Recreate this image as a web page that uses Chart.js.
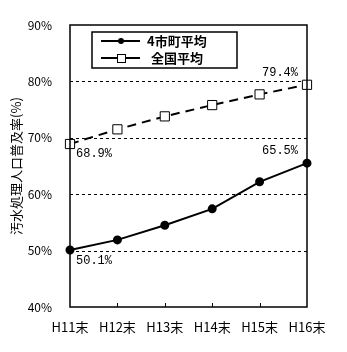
<!DOCTYPE html>
<html>
<head>
<meta charset="utf-8">
<script src="https://cdn.jsdelivr.net/npm/chart.js@4.4.1/dist/chart.umd.min.js"></script>
<style>
  html, body { margin: 0; padding: 0; background: #fff; }
  #wrap { width: 347px; height: 352px; }
</style>
</head>
<body>
<div id="wrap"><canvas id="myChart" width="347" height="352"></canvas></div>
<script>
const years = ['H11末', 'H12末', 'H13末', 'H14末', 'H15末', 'H16末'];
const local4 = [50.1, 51.9, 54.5, 57.4, 62.2, 65.5];
const national = [68.9, 71.5, 73.8, 75.8, 77.7, 79.4];
const seriesNames = ['4市町平均', '全国平均'];
const yTicks = [40, 50, 60, 70, 80, 90];

const jpFont = '"Noto Sans CJK JP", sans-serif';
const monoFont = '"Liberation Mono", monospace';

// dashed inner gridlines under the lines
const dashedGrid = {
    id: 'dashedGrid',
    beforeDatasetsDraw(chart) {
        const c = chart.ctx;
        const a = chart.chartArea;
        const ys = chart.scales.y;
        c.save();
        c.strokeStyle = '#000';
        c.lineWidth = 1;
        c.setLineDash([3, 3]);
        c.beginPath();
        yTicks.slice(1, -1).forEach(v => {
            const y = Math.round(ys.getPixelForValue(v)) + 0.5;
            c.moveTo(a.left, y);
            c.lineTo(a.right, y);
        });
        c.stroke();
        c.restore();
    }
};

// frame, inner x ticks, value labels and the boxed legend
const decorations = {
    id: 'decorations',
    afterDatasetsDraw(chart) {
        const c = chart.ctx;
        const a = chart.chartArea;
        const xs = chart.scales.x;
        c.save();
        c.strokeStyle = '#000';
        c.lineWidth = 1.5;
        c.strokeRect(a.left, a.top, a.right - a.left, a.bottom - a.top);

        c.lineWidth = 1;
        c.beginPath();
        for (let i = 1; i < years.length - 1; i++) {
            const x = Math.round(xs.getPixelForTick(i)) + 0.5;
            c.moveTo(x, a.bottom);
            c.lineTo(x, a.bottom - 4);
        }
        c.stroke();

        // first and last value of each series
        c.fillStyle = '#000';
        c.font = '12px ' + monoFont;
        const m0 = chart.getDatasetMeta(0).data;
        const m1 = chart.getDatasetMeta(1).data;
        const last = years.length - 1;
        c.textBaseline = 'top';
        c.textAlign = 'left';
        c.fillText(local4[0].toFixed(1) + '%', m0[0].x + 6, m0[0].y + 5);
        c.fillText(national[0].toFixed(1) + '%', m1[0].x + 6, m1[0].y + 4);
        c.textBaseline = 'bottom';
        c.textAlign = 'right';
        c.fillText(local4[last].toFixed(1) + '%', m0[last].x - 9, m0[last].y - 6);
        c.fillText(national[last].toFixed(1) + '%', m1[last].x - 9, m1[last].y - 6);

        // legend
        const lx = 92, ly = 32, lw = 145, lh = 36;
        c.fillStyle = '#fff';
        c.fillRect(lx, ly, lw, lh);
        c.lineWidth = 1.5;
        c.strokeStyle = '#000';
        c.strokeRect(lx, ly, lw, lh);
        c.lineWidth = 2;
        c.beginPath();
        c.moveTo(101, 41); c.lineTo(140, 41);
        c.moveTo(101, 58); c.lineTo(140, 58);
        c.stroke();
        c.fillStyle = '#000';
        c.beginPath();
        c.arc(121, 41, 3, 0, Math.PI * 2);
        c.fill();
        c.fillStyle = '#fff';
        c.lineWidth = 1;
        c.fillRect(117, 54, 8, 8);
        c.strokeRect(117.5, 54.5, 8, 8);
        c.fillStyle = '#000';
        c.textAlign = 'left';
        c.textBaseline = 'middle';
        c.font = 'bold 13px ' + jpFont;
        c.fillText(seriesNames[0], 147, 41);
        c.fillText(seriesNames[1], 151, 58);
        c.restore();
    }
};

new Chart(document.getElementById('myChart'), {
    type: 'line',
    data: {
        labels: years,
        datasets: [
            {
                label: seriesNames[0],
                data: local4,
                borderColor: '#000',
                backgroundColor: '#000',
                borderWidth: 2,
                pointStyle: 'circle',
                pointRadius: 3.5,
                tension: 0
            },
            {
                label: seriesNames[1],
                data: national,
                borderColor: '#000',
                backgroundColor: '#fff',
                borderWidth: 2,
                borderDash: [9, 6],
                pointStyle: 'rect',
                pointRadius: 6.5,
                pointBorderWidth: 1,
                tension: 0
            }
        ]
    },
    options: {
        responsive: false,
        animation: false,
        layout: {padding: {top: 25, right: 40, left: 8, bottom: 0}},
        plugins: {legend: {display: false}, tooltip: {enabled: false}},
        scales: {
            x: {
                offset: false,
                grid: {display: false},
                border: {display: false},
                ticks: {color: '#000', font: {family: jpFont, size: 13}, maxRotation: 0, padding: 4},
                afterFit(s) { s.height = 45; }
            },
            y: {
                min: 40,
                max: 90,
                afterBuildTicks(s) { s.ticks = yTicks.map(v => ({value: v})); },
                ticks: {color: '#000', font: {family: jpFont, size: 12}, padding: 10,
                    callback: v => v + '%'},
                grid: {display: false},
                border: {display: false},
                title: {display: true, text: '汚水処理人口普及率(%)', color: '#000',
                    font: {family: jpFont, size: 13}, padding: {top: 0, bottom: 4}},
                afterFit(s) { s.width = 62; }
            }
        }
    },
    plugins: [dashedGrid, decorations]
});
</script>
</body>
</html>
